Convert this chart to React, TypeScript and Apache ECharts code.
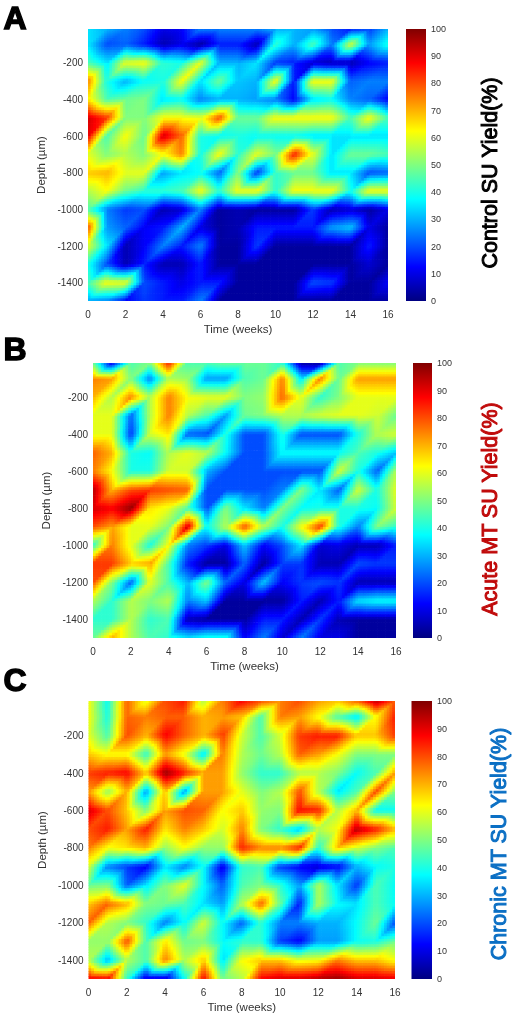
import React, { useEffect, useRef } from "react";
import * as echarts from "echarts";

const weeks = [0, 1, 2, 3, 4, 5, 6, 7, 8, 9, 10, 11, 12, 13, 14, 15, 16];
const depths = [-15, -100, -200, -300, -400, -500, -600, -700, -800, -900, -1000, -1100, -1200, -1300, -1400, -1500];
const depthTicks = [-1400, -1200, -1000, -800, -600, -400, -200];
const yieldTicks = [0, 10, 20, 30, 40, 50, 60, 70, 80, 90, 100];

const controlYield = [
  [35, 30, 25, 20, 10, 12, 25, 25, 25, 25, 30, 30, 28, 20, 15, 18, 30],
  [35, 20, 22, 15, 5, 10, 3, 15, 15, 5, 42, 30, 45, 25, 58, 28, 40],
  [45, 35, 60, 62, 42, 40, 60, 30, 30, 35, 18, 15, 8, 5, 5, 12, 15],
  [75, 40, 30, 38, 40, 62, 35, 48, 32, 30, 62, 15, 62, 62, 22, 25, 25],
  [65, 45, 48, 50, 35, 38, 25, 30, 30, 28, 25, 12, 35, 38, 25, 22, 12],
  [92, 82, 50, 50, 62, 62, 60, 80, 48, 48, 62, 62, 62, 62, 45, 62, 45],
  [90, 45, 62, 48, 92, 78, 40, 38, 40, 38, 38, 38, 35, 35, 35, 35, 35],
  [60, 50, 55, 50, 62, 75, 40, 62, 42, 60, 50, 85, 60, 35, 48, 48, 45],
  [68, 70, 60, 60, 28, 35, 38, 22, 50, 18, 42, 48, 48, 35, 35, 20, 22],
  [55, 62, 48, 42, 42, 45, 62, 42, 62, 62, 42, 62, 62, 62, 40, 62, 62],
  [45, 25, 18, 20, 5, 8, 25, 3, 5, 3, 3, 3, 18, 5, 8, 3, 10],
  [80, 28, 22, 12, 15, 30, 10, 3, 5, 15, 15, 15, 15, 28, 32, 10, 3],
  [60, 35, 5, 12, 25, 15, 25, 3, 3, 18, 3, 3, 3, 3, 3, 15, 3],
  [40, 20, 5, 15, 5, 5, 15, 3, 3, 3, 3, 3, 3, 3, 3, 8, 3],
  [45, 62, 60, 20, 15, 10, 15, 15, 3, 3, 3, 3, 20, 18, 3, 3, 12],
  [28, 25, 12, 18, 15, 15, 25, 3, 3, 3, 3, 3, 3, 3, 3, 3, 3],
];

const acuteYield = [
  [48, 10, 45, 50, 85, 45, 45, 48, 48, 48, 42, 3, 3, 45, 50, 50, 50],
  [75, 72, 50, 25, 55, 52, 28, 28, 45, 48, 75, 35, 75, 48, 72, 72, 72],
  [70, 55, 75, 55, 75, 62, 60, 60, 50, 52, 78, 60, 42, 50, 60, 60, 60],
  [60, 60, 22, 55, 75, 55, 45, 28, 48, 50, 55, 55, 58, 60, 60, 58, 48],
  [60, 60, 18, 58, 65, 22, 20, 40, 20, 20, 40, 20, 20, 20, 40, 55, 58],
  [78, 70, 40, 38, 55, 60, 55, 38, 20, 20, 38, 38, 38, 38, 45, 40, 32],
  [75, 62, 40, 40, 58, 58, 30, 20, 20, 20, 20, 20, 20, 58, 40, 22, 55],
  [95, 70, 80, 82, 80, 78, 20, 20, 20, 20, 25, 50, 35, 22, 58, 40, 60],
  [92, 88, 98, 65, 60, 45, 20, 50, 35, 25, 50, 38, 40, 40, 40, 38, 58],
  [80, 72, 60, 60, 50, 92, 38, 55, 80, 55, 40, 62, 82, 40, 25, 50, 42],
  [42, 75, 60, 40, 62, 25, 18, 10, 32, 12, 20, 35, 8, 10, 5, 5, 15],
  [82, 82, 68, 72, 45, 15, 3, 3, 22, 3, 18, 18, 5, 5, 20, 18, 18],
  [80, 50, 22, 60, 45, 30, 50, 22, 10, 32, 12, 18, 20, 18, 5, 5, 5],
  [55, 42, 55, 50, 55, 25, 32, 3, 3, 3, 3, 15, 5, 15, 35, 38, 38],
  [42, 42, 55, 42, 45, 5, 3, 3, 3, 15, 15, 5, 18, 5, 3, 3, 3],
  [48, 70, 55, 45, 42, 35, 40, 40, 12, 25, 8, 25, 10, 10, 3, 3, 3],
];

const chronicYield = [
  [62, 38, 78, 60, 80, 85, 55, 75, 88, 80, 75, 80, 72, 68, 78, 95, 80],
  [62, 40, 78, 75, 78, 78, 70, 72, 68, 45, 75, 72, 62, 45, 35, 62, 85],
  [60, 45, 80, 70, 88, 78, 70, 82, 58, 45, 58, 82, 85, 85, 68, 68, 82],
  [68, 62, 62, 42, 72, 60, 35, 75, 55, 48, 55, 78, 72, 62, 50, 50, 50],
  [82, 85, 88, 68, 98, 85, 72, 72, 52, 42, 42, 55, 55, 50, 38, 45, 72],
  [72, 52, 70, 28, 68, 28, 72, 72, 60, 50, 55, 80, 55, 35, 45, 80, 50],
  [92, 80, 68, 50, 72, 80, 78, 62, 68, 52, 50, 88, 85, 55, 70, 38, 38],
  [80, 85, 72, 85, 65, 75, 68, 58, 75, 50, 42, 32, 55, 62, 95, 85, 70],
  [75, 62, 65, 70, 52, 62, 52, 52, 85, 75, 75, 85, 42, 68, 58, 50, 45],
  [58, 25, 18, 12, 35, 25, 38, 10, 42, 45, 18, 12, 8, 12, 30, 38, 40],
  [48, 50, 22, 35, 50, 60, 38, 22, 45, 50, 42, 28, 55, 35, 18, 45, 38],
  [68, 78, 70, 50, 48, 45, 35, 28, 55, 78, 48, 15, 55, 38, 35, 45, 38],
  [78, 55, 50, 42, 25, 38, 58, 38, 22, 42, 25, 25, 30, 30, 38, 48, 20],
  [52, 52, 80, 45, 65, 48, 50, 38, 42, 42, 18, 12, 28, 28, 38, 40, 48],
  [55, 30, 55, 45, 75, 55, 68, 35, 62, 68, 68, 60, 62, 75, 68, 68, 62],
  [90, 88, 42, 8, 8, 38, 88, 48, 55, 88, 92, 92, 95, 98, 92, 92, 90],
];

const jetStops = [
  { offset: 0, color: "#000080" },
  { offset: 0.125, color: "#0000ff" },
  { offset: 0.375, color: "#00ffff" },
  { offset: 0.625, color: "#ffff00" },
  { offset: 0.875, color: "#ff0000" },
  { offset: 1, color: "#800000" },
];
const jetRgb = [
  [0, 0, 128],
  [0, 0, 255],
  [0, 255, 255],
  [255, 255, 0],
  [255, 0, 0],
  [128, 0, 0],
];

function jet(value: number) {
  const t = Math.max(0, Math.min(1, value / 100));
  for (let i = 1; i < jetStops.length; i++) {
    if (t <= jetStops[i].offset) {
      const a = jetStops[i - 1].offset;
      const k = (t - a) / (jetStops[i].offset - a);
      const p = jetRgb[i - 1];
      const q = jetRgb[i];
      return `rgb(${Math.round(p[0] + (q[0] - p[0]) * k)},${Math.round(p[1] + (q[1] - p[1]) * k)},${Math.round(p[2] + (q[2] - p[2]) * k)})`;
    }
  }
  return "#800000";
}

const SUB = 7;

function cellRenderer(matrix: number[][]) {
  return (_params: any, api: any) => {
    const c = api.value(0);
    const r = api.value(1);
    if (c >= weeks.length - 1 || r >= depths.length - 1) return { type: "group", children: [] };
    const p0 = api.coord([weeks[c], depths[r]]);
    const p1 = api.coord([weeks[c + 1], depths[r + 1]]);
    const w = (p1[0] - p0[0]) / SUB;
    const h = (p1[1] - p0[1]) / SUB;
    const a = matrix[r][c];
    const b = matrix[r][c + 1];
    const d = matrix[r + 1][c];
    const e = matrix[r + 1][c + 1];
    const children: any[] = [];
    for (let i = 0; i < SUB; i++) {
      for (let j = 0; j < SUB; j++) {
        const u = (i + 0.5) / SUB;
        const v = (j + 0.5) / SUB;
        const val = u + v <= 1 ? a + u * (b - a) + v * (d - a) : e + (1 - u) * (d - e) + (1 - v) * (b - e);
        const lastX = c === weeks.length - 2 && i === SUB - 1;
        const lastY = r === depths.length - 2 && j === SUB - 1;
        children.push({
          type: "rect",
          shape: {
            x: p0[0] + i * w,
            y: p0[1] + j * h,
            width: w + (lastX ? 0 : 0.7),
            height: h + (lastY ? 0 : 0.7),
          },
          style: { fill: jet(val) },
          silent: true,
        });
      }
    }
    return { type: "group", children };
  };
}

function nodes() {
  const out: number[][] = [];
  depths.forEach((_, r) => weeks.forEach((_w, c) => out.push([c, r])));
  return out;
}

const panels = [
  {
    letter: "A", letterY: 18, matrix: controlYield, title: "Control SU Yield(%)", titleColor: "#000000",
    titleX: 490, titleY: 173, left: 88, right: 388, top: 29, bottom: 301, barL: 406, barR: 426,
  },
  {
    letter: "B", letterY: 349, matrix: acuteYield, title: "Acute MT SU Yield(%)", titleColor: "#c00a0a",
    titleX: 490, titleY: 509, left: 93, right: 396, top: 363, bottom: 638, barL: 413, barR: 432,
  },
  {
    letter: "C", letterY: 680, matrix: chronicYield, title: "Chronic MT SU Yield(%)", titleColor: "#0b6fc4",
    titleX: 499, titleY: 844, left: 88.5, right: 395, top: 701, bottom: 979, barL: 411.5, barR: 432,
  },
];

const FONT = "Liberation Sans";
const labelStyle = { fontFamily: FONT, fontSize: 10, color: "#333333" };
const barLabelStyle = { fontFamily: FONT, fontSize: 9, color: "#333333" };
const nameStyle = { fontFamily: FONT, fontSize: 11.5, color: "#333333" };

export default function App() {
  const ref = useRef<HTMLDivElement>(null);
  useEffect(() => {
    const chart = echarts.init(ref.current!, undefined, { renderer: "svg" });
    const grid: any[] = [];
    const xAxis: any[] = [];
    const yAxis: any[] = [];
    const series: any[] = [];
    const graphic: any[] = [];
    panels.forEach((p, k) => {
      const g = k * 2;
      grid.push({ left: p.left, top: p.top, width: p.right - p.left, height: p.bottom - p.top });
      grid.push({ left: p.barL, top: p.top, width: p.barR - p.barL, height: p.bottom - p.top });
      xAxis.push({
        gridIndex: g, type: "value", min: 0, max: 16, interval: 2,
        splitLine: { show: false }, axisLine: { show: false }, axisTick: { show: false },
        axisLabel: { ...labelStyle, margin: 8 },
        name: "Time (weeks)", nameLocation: "middle", nameGap: 22, nameTextStyle: nameStyle,
      });
      yAxis.push({
        gridIndex: g, type: "value", min: -1500, max: -15,
        splitLine: { show: false }, axisLine: { show: false }, axisTick: { show: false },
        axisLabel: { ...labelStyle, margin: 5, customValues: depthTicks, formatter: (v: number) => String(v) },
        name: "Depth (µm)", nameLocation: "middle", nameGap: 41, nameMoveOverlap: false, nameTextStyle: nameStyle, nameRotate: 90,
      });
      xAxis.push({ gridIndex: g + 1, type: "value", min: 0, max: 1, show: false });
      yAxis.push({
        gridIndex: g + 1, type: "value", position: "right", min: 0, max: 100, interval: 10,
        splitLine: { show: false }, axisLine: { show: false }, axisTick: { show: false },
        axisLabel: { ...barLabelStyle, margin: 5, customValues: yieldTicks },
      });
      series.push({
        type: "custom", xAxisIndex: g, yAxisIndex: g, coordinateSystem: "cartesian2d",
        data: nodes(), encode: { x: -1, y: -1 }, renderItem: cellRenderer(p.matrix), silent: true, clip: false,
      });
      series.push({
        type: "custom", xAxisIndex: g + 1, yAxisIndex: g + 1, coordinateSystem: "cartesian2d",
        data: [[0, 100]], silent: true,
        renderItem: (_params: any, api: any) => {
          const a = api.coord([0, 100]);
          const b = api.coord([1, 0]);
          return {
            type: "rect",
            shape: { x: a[0], y: a[1], width: b[0] - a[0], height: b[1] - a[1] },
            style: { fill: new echarts.graphic.LinearGradient(0, 1, 0, 0, jetStops) },
          };
        },
      });
      graphic.push({
        type: "text", x: 15, y: p.letterY,
        style: {
          text: p.letter, fontFamily: FONT, fontWeight: "bold", fontSize: 32, fill: "#000",
          stroke: "#000", lineWidth: 1.4, textAlign: "center", textVerticalAlign: "middle",
        },
      });
      graphic.push({
        type: "text", x: p.titleX, y: p.titleY, rotation: Math.PI / 2,
        style: {
          text: p.title, fontFamily: FONT, fontSize: 21.5, fill: p.titleColor,
          stroke: p.titleColor, lineWidth: 1, textAlign: "center", textVerticalAlign: "middle",
        },
      });
    });
    chart.setOption({ animation: false, grid, xAxis, yAxis, series, graphic });
    return () => chart.dispose();
  }, []);
  return (
    <div
      ref={ref}
      style={{ position: "absolute", left: 0, top: 0, width: 514, height: 1020, background: "#fff", filter: "blur(0.5px)" }}
    />
  );
}
